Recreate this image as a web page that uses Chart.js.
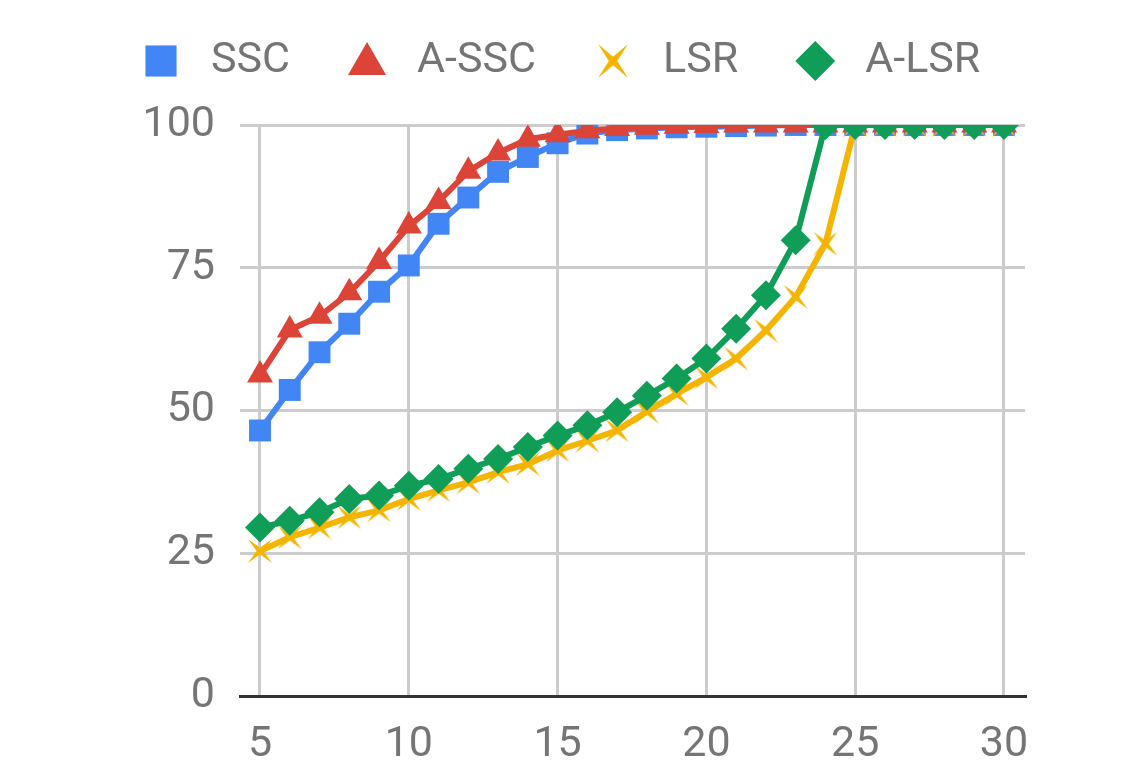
<!DOCTYPE html>
<html>
<head>
<meta charset="utf-8">
<script src="https://cdn.jsdelivr.net/npm/chart.js@4"></script>
<style>
  html, body { margin: 0; padding: 0; background: #fff; }
  #wrap { width: 1142px; height: 763px; }
</style>
</head>
<body>
<div id="wrap"><canvas id="chart" width="1142" height="763"></canvas></div>
<script>
// values
const xValues = [5, 6, 7, 8, 9, 10, 11, 12, 13, 14, 15, 16, 17, 18, 19, 20, 21, 22, 23, 24, 25, 26, 27, 28, 29, 30];
const ssc = [46.5, 53.6, 60.2, 65.2, 70.8, 75.4, 82.7, 87.3, 91.8, 94.4, 96.8, 98.5, 99.1, 99.4, 99.6, 99.7, 99.8, 99.9, 100, 100, 100, 100, 100, 100, 100, 100];
const aSsc = [56.2, 64.1, 66.5, 70.6, 76.1, 82.3, 86.6, 91.9, 95.1, 97.5, 98.3, 99.0, 99.4, 99.6, 99.8, 99.9, 100, 100, 100, 100, 100, 100, 100, 100, 100, 100];
const lsr = [25.4, 27.8, 29.5, 31.3, 32.5, 34.5, 36.0, 37.4, 39.2, 40.6, 43.0, 44.7, 46.5, 49.8, 52.9, 55.8, 59.1, 64.0, 69.9, 79.2, 100, 100, 100, 100, 100, 100];
const aLsr = [29.5, 30.7, 32.2, 34.5, 35.1, 36.8, 38.0, 39.8, 41.5, 43.6, 45.6, 47.4, 49.7, 52.6, 55.6, 59.1, 64.3, 70.2, 79.8, 100, 100, 100, 100, 100, 100, 100];
const seriesNames = ['SSC', 'A-SSC', 'LSR', 'A-LSR'];
const xTicks = [5, 10, 15, 20, 25, 30];
const yTicks = [0, 25, 50, 75, 100];

const colors = ['#4285f4', '#db4437', '#f4b400', '#0f9d58'];
const textColor = '#757575';
const fontFamily = 'Roboto, "Noto Sans", sans-serif';

// four-point star used for the LSR marker
function makeStar(w, h, color) {
  const c = document.createElement('canvas');
  c.width = w; c.height = h;
  const g = c.getContext('2d');
  const cx = w / 2, cy = h / 2;
  const inner = Math.min(w, h) * 0.14;
  g.fillStyle = color;
  g.beginPath();
  const tips = [[0, 0], [w, 0], [w, h], [0, h]];
  const mids = [[cx, cy - inner], [cx + inner, cy], [cx, cy + inner], [cx - inner, cy]];
  g.moveTo(tips[0][0], tips[0][1]);
  for (let i = 0; i < 4; i++) {
    g.lineTo(mids[i][0], mids[i][1]);
    g.lineTo(tips[(i + 1) % 4][0], tips[(i + 1) % 4][1]);
  }
  g.closePath();
  g.fill();
  return c;
}
const starPoint = makeStar(24, 24, colors[2]);
const starLegend = makeStar(30, 34, colors[2]);

function toPoints(arr) {
  return xValues.map((x, i) => ({ x: x, y: arr[i] }));
}

const pointStyles = ['rect', 'triangle', starPoint, 'rectRot'];
const pointRadii = [15.5, 15, 12, 15];
const legendStyles = ['rect', 'triangle', starLegend, 'rectRot'];
const legendRadii = [22, 22, 17, 20];

// legend drawn by hand so marker/text spacing can match the reference
const legendPlugin = {
  id: 'manualLegend',
  afterDraw(chart) {
    const ctx = chart.ctx;
    ctx.save();
    ctx.font = '43px ' + fontFamily;
    ctx.textBaseline = 'middle';
    ctx.textAlign = 'left';
    let cx = 161;
    const cy = 61;
    seriesNames.forEach((name, i) => {
      ctx.fillStyle = colors[i];
      ctx.strokeStyle = colors[i];
      Chart.helpers.drawPoint(ctx, {
        pointStyle: legendStyles[i],
        radius: legendRadii[i],
        rotation: 0,
        borderWidth: 0
      }, cx, cy + (i === 1 ? 3 : 0));
      ctx.fillStyle = textColor;
      const tx = cx + 50;
      ctx.fillText(name, tx, cy);
      cx = tx + ctx.measureText(name).width + 77;
    });
    ctx.restore();
  }
};

const datasets = [ssc, aSsc, lsr, aLsr].map((arr, i) => ({
  label: seriesNames[i],
  data: toPoints(arr),
  borderColor: colors[i],
  backgroundColor: colors[i],
  borderWidth: 6,
  pointStyle: pointStyles[i],
  pointRadius: pointRadii[i],
  pointHoverRadius: pointRadii[i],
  pointBorderWidth: 0,
  tension: 0,
  order: 3 - i
}));

new Chart(document.getElementById('chart'), {
  type: 'line',
  data: { datasets: datasets },
  plugins: [legendPlugin],
  options: {
    responsive: false,
    animation: false,
    layout: { padding: { top: 125, right: 117, bottom: 0, left: 0 } },
    plugins: {
      legend: { display: false },
      tooltip: { enabled: false }
    },
    scales: {
      x: {
        type: 'linear',
        min: 4.328,
        max: 30.706,
        afterBuildTicks: (scale) => { scale.ticks = xTicks.map(v => ({ value: v })); },
        afterFit: (scale) => { scale.height = 67; },
        grid: { color: '#cccccc', lineWidth: 3, drawTicks: false },
        border: { display: true, color: '#333333', width: 3 },
        ticks: {
          color: textColor,
          font: { family: fontFamily, size: 43 },
          padding: 23,
          maxRotation: 0,
          autoSkip: false
        }
      },
      y: {
        min: 0,
        max: 100,
        afterBuildTicks: (scale) => { scale.ticks = yTicks.map(v => ({ value: v })); },
        afterFit: (scale) => { scale.width = 240; },
        grid: {
          color: (c) => (c.tick && c.tick.value === 0 ? '#333333' : '#cccccc'),
          lineWidth: 3,
          drawTicks: false
        },
        border: { display: false },
        ticks: {
          color: textColor,
          font: { family: fontFamily, size: 43 },
          padding: 25
        }
      }
    }
  }
});
</script>
</body>
</html>
